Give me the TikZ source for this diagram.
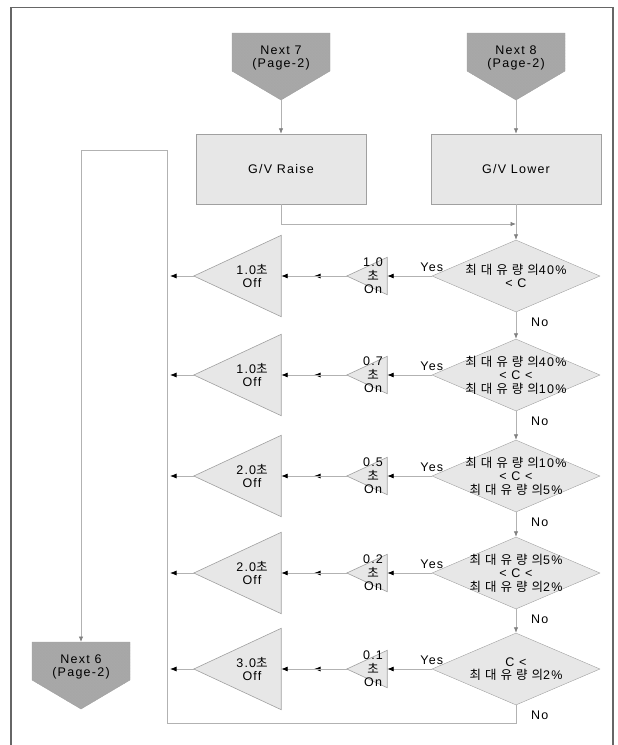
\documentclass[tikz,border=0pt]{standalone}
\usepackage{fontspec}
\setmainfont[LetterSpace=10]{Liberation Sans}
\newfontfamily\kr[LetterSpace=32]{Noto Sans CJK KR}
\usetikzlibrary{arrows.meta,calc,patterns,shapes.geometric}
\definecolor{linegray}{RGB}{178,178,178}
\definecolor{boxgray}{RGB}{231,231,231}
\definecolor{edgegray}{RGB}{160,160,160}
\definecolor{hatchgray}{RGB}{168,168,168}
\tikzset{
  txt/.style={font=\fontsize{12.5}{13.5}\selectfont, align=center, inner sep=0pt},
  flow/.style={draw=linegray, line width=0.8pt, -{Latex[length=5.5pt,width=4.5pt,color=gray]}},
  rowarrow/.style={draw=linegray, line width=0.8pt, -{Latex[length=6.5pt,width=5pt,color=black]}},
  gvbox/.style={draw=edgegray, fill=boxgray, minimum width=170pt, minimum height=70pt, txt},
  dec/.style={diamond, draw=edgegray, fill=boxgray, minimum width=168pt, minimum height=72pt, inner sep=0pt},
  onbox/.style={minimum width=40pt, minimum height=37pt, inner sep=0pt},
  offbox/.style={minimum width=87pt, minimum height=81pt, inner sep=0pt},
  tri/.style={draw=edgegray, fill=boxgray, line width=0.6pt}
}
% off-page connector: name, x, top y, text
\def\offpage#1#2#3#4{%
  \draw[draw=edgegray, preaction={fill=hatchgray}, pattern=crosshatch dots, pattern color=gray!70]
    (#2-49,#3) -- (#2+49,#3) -- (#2+49,#3+38) -- (#2,#3+67) -- (#2-49,#3+38) -- cycle;
  \node[txt] (#1) at (#2,#3+25) {#4};
  \coordinate (#1top) at (#2,#3);
  \coordinate (#1tip) at (#2,#3+67);
}
% one test row: index, y, on time, off time, condition
\def\steprow#1#2#3#4#5{%
  \node[dec] (d#1) at (516,#2) {};
  \node[txt] (d#1t) at (d#1) {#5};
  \node[onbox] (on#1) at (367,#2) {};
  \draw[tri] (on#1.north east) -- (on#1.south east) -- (on#1.west) -- cycle;
  \node[txt] (on#1t) at ([xshift=6pt]on#1.center) {#3\\{\kr 초}\\On};
  \node[offbox] (off#1) at (237.5,#2) {};
  \draw[tri] (off#1.north east) -- (off#1.south east) -- (off#1.west) -- cycle;
  \node[txt, font=\fontsize{12.5}{12.5}\selectfont] (off#1t) at ([xshift=14.5pt]off#1.center) {#4{\kr 초}\\Off};
  \coordinate (out#1) at (170,#2);
  \node[txt, anchor=south] (yes#1) at ([yshift=4pt]d#1.west) {Yes};
  \node[txt, anchor=west] (no#1) at ([xshift=15pt,yshift=-10pt]d#1.south) {No};
  \draw[rowarrow] (d#1.west) -- (on#1.east);
  \draw[rowarrow] (on#1.west) -- ($(on#1.west)!.5!(off#1.east)$);
  \draw[rowarrow] (on#1.west) -- (off#1.east);
  \draw[rowarrow] (off#1.west) -- (out#1);
}

\begin{document}
\begin{tikzpicture}[x=1pt, y=-1pt]
	%%%%% START %%%%%
	\useasboundingbox (0,0) rectangle (618,745);
	\draw[line width=1.3pt, draw=black!60] (11,746) -- (11,7.5) -- (613,7.5) -- (613,746);
	
	\offpage{n7}{281}{33}{Next 7\\(Page-2)}
	\offpage{n8}{516}{33}{Next 8\\(Page-2)}
	\offpage{n6}{81}{642}{Next 6\\(Page-2)}
	
	\node[gvbox] (raise) at (281,169) {G/V Raise};
	\node[gvbox] (lower) at (516,169) {G/V Lower};
	
	\steprow{1}{276}{1.0}{1.0}{{\kr 최대유량의}40\%\\< C}
	\steprow{2}{375}{0.7}{1.0}{{\kr 최대유량의}40\%\\< C <\\{\kr 최대유량의}10\%}
	\steprow{3}{476}{0.5}{2.0}{{\kr 최대유량의}10\%\\< C <\\{\kr 최대유량의}5\%}
	\steprow{4}{573}{0.2}{2.0}{{\kr 최대유량의}5\%\\< C <\\{\kr 최대유량의}2\%}
	\steprow{5}{669}{0.1}{3.0}{C <\\{\kr 최대유량의}2\%}
	
	\coordinate (join) at (516,224);
	\coordinate (loopa) at (167,723);
	\coordinate (loopb) at (81,150);
	
	\draw[flow] (n7tip) -- (raise.north);
	\draw[flow] (n8tip) -- (lower.north);
	\draw[flow] (raise.south) |- (join);
	\draw[flow] (lower.south) -- (d1.north);
	\draw[flow] (d1.south) -- (d2.north);
	\draw[flow] (d2.south) -- (d3.north);
	\draw[flow] (d3.south) -- (d4.north);
	\draw[flow] (d4.south) -- (d5.north);
	\draw[flow] (d5.south) |- (loopa) |- (loopb) -- (n6top);
	%%%%% END %%%%%
\end{tikzpicture}
\end{document}
